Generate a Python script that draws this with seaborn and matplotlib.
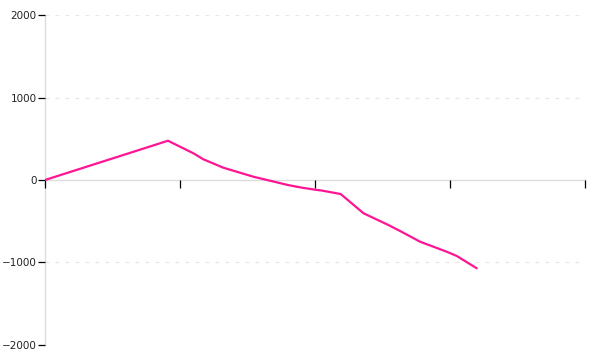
import matplotlib
matplotlib.use("Agg")
import matplotlib.pyplot as plt
import seaborn as sns
import pandas as pd

x_vals = [0.0, 0.911, 1.099, 1.173, 1.321, 1.543, 1.80, 1.889, 1.97, 2.05, 2.19, 2.36, 2.543, 2.630, 2.778, 2.975, 3.050, 3.198]
y_vals = [0, 476, 324, 251, 149, 40, -61, -89, -110, -128, -170, -404, -545, -618, -748, -869, -921, -1070]
y_ticks = [-2000, -1000, 0, 1000, 2000]
x_ticks = [0, 1, 2, 3, 4]

df = pd.DataFrame({"x": x_vals, "y": y_vals})

sns.set_style("white")
plt.rcParams['font.family'] = ['DejaVu Sans']

fig = plt.figure(figsize=(6, 3.6), dpi=100)
ax = fig.add_axes([0.075, 0.0417, 0.9, 0.9166])

sns.lineplot(data=df, x="x", y="y", ax=ax, color="#ff1493", linewidth=1.6, sort=False)

ax.set_xlim(0, 4)
ax.set_ylim(-2000, 2000)
ax.set_xticks(x_ticks)
ax.set_xticklabels([])
ax.set_yticks(y_ticks)
ax.set_yticklabels([str(v).replace('-', '\u2212') for v in y_ticks])
ax.set_xlabel("")
ax.set_ylabel("")

for v in [-2000, -1000, 1000, 2000]:
    ax.axhline(v, color="#e6e6e6", linewidth=0.9, linestyle=(0, (3, 5)), zorder=0)

ax.spines['top'].set_visible(False)
ax.spines['right'].set_visible(False)
ax.spines['bottom'].set_position(('data', 0))
for s in ['bottom', 'left']:
    ax.spines[s].set_color("#dddddd")
    ax.spines[s].set_linewidth(1.0)
    ax.spines[s].set_zorder(0.5)

ax.tick_params(axis='x', direction='out', length=6, width=0.9, color='black', bottom=True)
ax.tick_params(axis='y', direction='out', length=5, width=0.9, color='black', left=True,
               labelsize=7.5, pad=1, labelcolor='#222222')

fig.savefig("out.png", dpi=100, facecolor="white")
